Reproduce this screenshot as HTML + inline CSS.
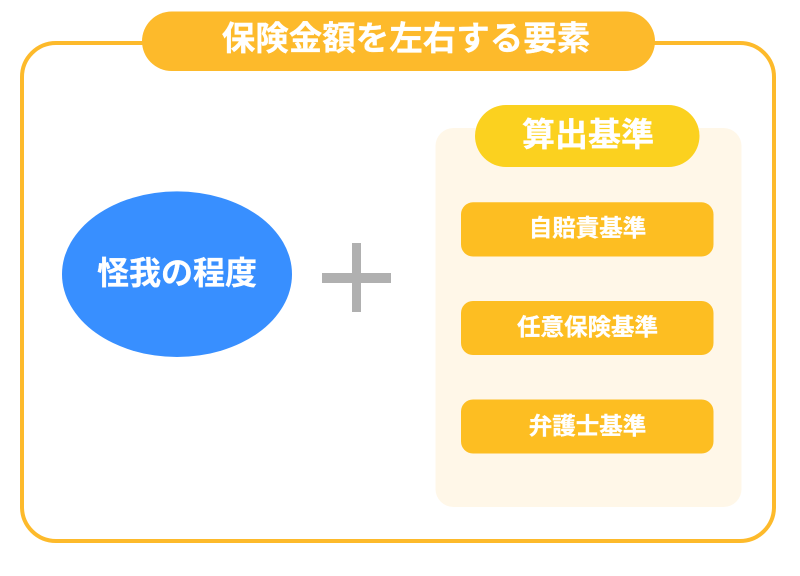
<!DOCTYPE html>
<html lang="ja"><head><meta charset="utf-8"><style>
html,body{margin:0;padding:0;background:#fff}
body{width:800px;height:576px;overflow:hidden;position:relative}
svg{position:absolute;left:0;top:0}
text{font-family:"Liberation Sans","Noto Sans CJK JP",sans-serif;font-weight:700;fill:#fff;text-anchor:middle;stroke:#fff;stroke-width:.3}
</style></head><body>
<svg width="800" height="576" viewBox="0 0 800 576" xmlns="http://www.w3.org/2000/svg">
<rect x="22" y="43" width="752" height="498" rx="34" ry="34" fill="#fff" stroke="#FDBA2B" stroke-width="4"/>
<rect x="142" y="11.5" width="513" height="59.5" rx="29.7" fill="#FDBA2B"/>
<text x="406" y="50" font-size="33.5">保険金額を左右する要素</text>
<ellipse cx="177" cy="274.2" rx="115" ry="82.8" fill="#388FFF"/>
<text x="177" y="284" font-size="32">怪我の程度</text>
<rect x="352" y="243" width="9" height="69" fill="#B0B0B0"/>
<rect x="322" y="273" width="69" height="10" fill="#B0B0B0"/>
<rect x="435.5" y="128" width="306" height="379" rx="18" fill="#FFF7E8"/>
<rect x="475" y="105" width="224.5" height="62" rx="31" fill="#FBD11F"/>
<text x="588" y="146" font-size="33">算出基準</text>
<rect x="461" y="202.3" width="252.5" height="54.2" rx="12" fill="#FDBE22"/>
<text x="587.5" y="236" font-size="23.5">自賠責基準</text>
<rect x="461" y="301" width="252.5" height="54" rx="12" fill="#FDBE22"/>
<text x="587.5" y="335" font-size="23.5">任意保険基準</text>
<rect x="461" y="399.5" width="252.5" height="54" rx="12" fill="#FDBE22"/>
<text x="587.5" y="434" font-size="23.5">弁護士基準</text>
</svg>
</body></html>
